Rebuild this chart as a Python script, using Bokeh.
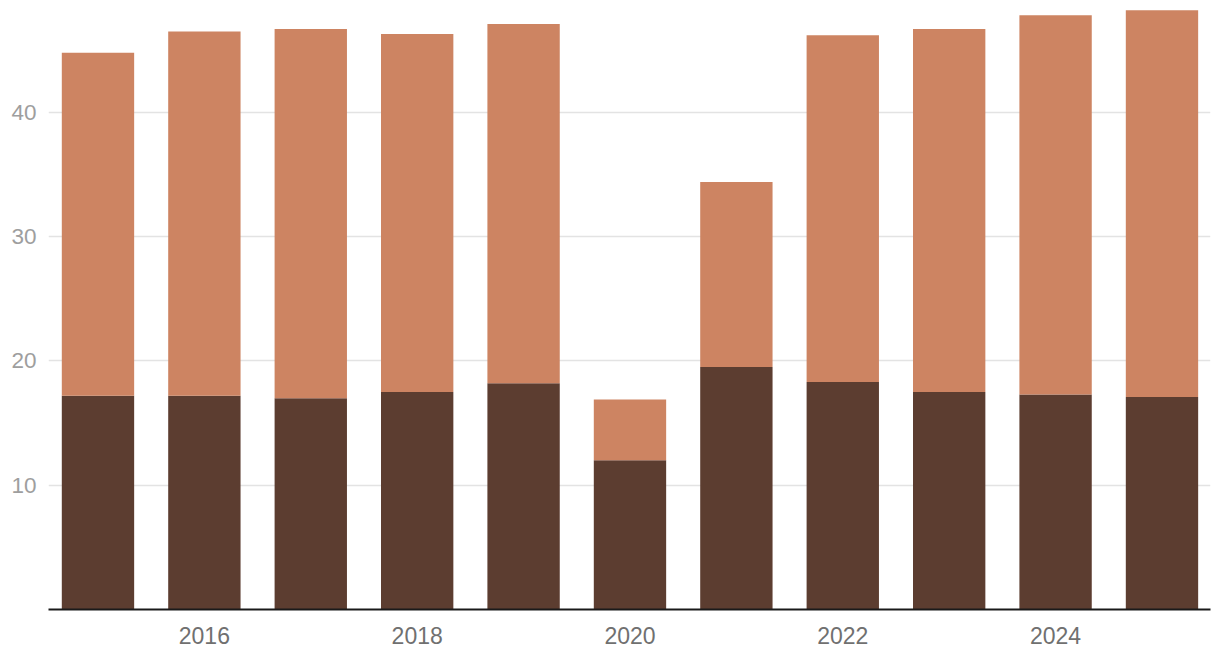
from bokeh.plotting import figure
from bokeh.models import ColumnDataSource, FixedTicker, Range1d
from bokeh.embed import file_html
from bokeh.resources import INLINE

years = [2015, 2016, 2017, 2018, 2019, 2020, 2021, 2022, 2023, 2024, 2025]
bottom_vals = [17.2, 17.2, 17.0, 17.5, 18.2, 12.0, 19.5, 18.3, 17.5, 17.3, 17.1]
totals = [44.8, 46.5, 46.7, 46.3, 47.1, 16.9, 34.4, 46.2, 46.7, 47.8, 48.2]
top_vals = [round(t - b, 2) for t, b in zip(totals, bottom_vals)]
y_ticks = [10, 20, 30, 40]
x_ticks = [2016, 2018, 2020, 2022, 2024]

source = ColumnDataSource(dict(year=years, lower=bottom_vals, upper=top_vals))

p = figure(width=1216, height=658, output_backend="svg", toolbar_location=None,
           x_range=Range1d(2014.535, 2025.456), y_range=Range1d(0, 48.35),
           min_border_left=48, min_border_right=6, min_border_top=8, min_border_bottom=49)
p.outline_line_color = None
p.background_fill_color = "white"
p.border_fill_color = "white"

p.vbar_stack(["lower", "upper"], x="year", width=0.68, source=source,
             color=["#5c3d30", "#cd8462"], line_color=None)

# axes
p.xaxis.ticker = FixedTicker(ticks=x_ticks)
p.yaxis.ticker = FixedTicker(ticks=y_ticks)
p.xaxis.axis_line_color = "#1a1a1a"
p.xaxis.axis_line_width = 2
p.xaxis.major_tick_line_color = None
p.xaxis.minor_tick_line_color = None
p.xaxis.major_label_text_font = "Liberation Sans"
p.xaxis.major_label_text_font_size = "23px"
p.xaxis.major_label_text_color = "#707070"
p.xaxis.major_label_standoff = 11

p.yaxis.axis_line_color = None
p.yaxis.major_tick_line_color = None
p.yaxis.minor_tick_line_color = None
p.yaxis.major_tick_out = 0
p.yaxis.major_label_text_font = "Liberation Sans"
p.yaxis.major_label_text_font_size = "22.5px"
p.yaxis.major_label_text_color = "#9e9e9e"
p.yaxis.major_label_standoff = 12

p.xgrid.grid_line_color = None
p.ygrid.ticker = FixedTicker(ticks=y_ticks)
p.ygrid.grid_line_color = "#e3e3e3"
p.ygrid.grid_line_width = 1.5

open("out.html", "w").write(file_html(p, INLINE))
